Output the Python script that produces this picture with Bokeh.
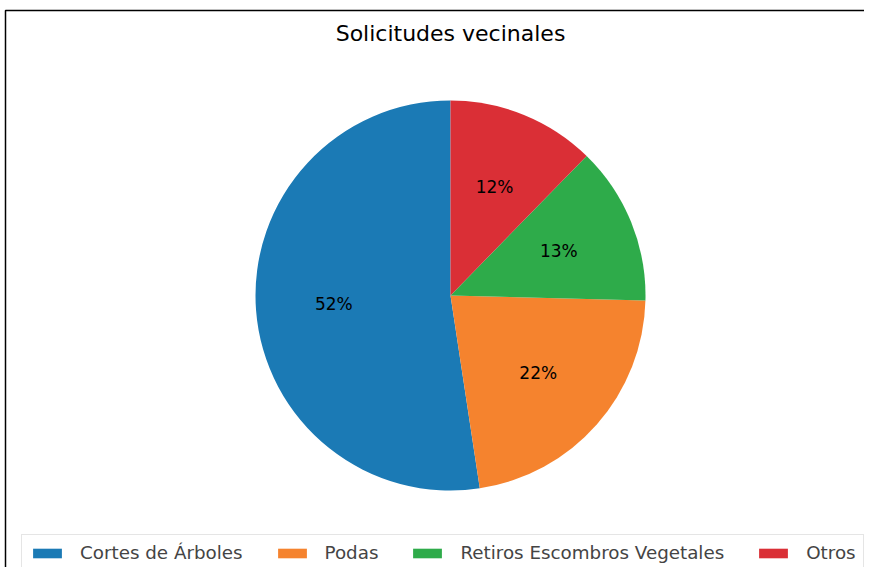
import numpy as np
from bokeh.plotting import figure
from bokeh.models import Range1d, Legend, LegendItem, ColumnDataSource, BoxAnnotation
from bokeh.core.properties import value
from bokeh.embed import file_html
from bokeh.resources import INLINE

title = "Solicitudes vecinales"
categories = ["Cortes de Árboles", "Podas", "Retiros Escombros Vegetales", "Otros"]
shares = [52.4, 22.2, 13.1, 12.3]
colors = ["#1b7ab5", "#f5832e", "#2eab4a", "#da2f36"]

W, H = 864, 567
p = figure(width=W, height=H, output_backend="svg", toolbar_location=None,
           x_range=Range1d(0, W), y_range=Range1d(0, H), min_border=0)
p.axis.visible = False
p.grid.visible = False
p.outline_line_color = None
p.background_fill_color = "white"

# frame line of the original figure (partly cropped)
p.add_layout(BoxAnnotation(left=5, right=W + 20, top=H - 10, bottom=-20,
                           fill_alpha=0, line_color="black", line_alpha=1, line_width=1.5))

cx, cy, r = 450, 272, 195
vals = np.array(shares, dtype=float)
frac = vals / vals.sum()
ends = np.pi / 2 + 2 * np.pi * np.cumsum(frac)
starts = ends - 2 * np.pi * frac
mids = (starts + ends) / 2
labels = [f"{v:.0f}%" for v in frac * 100]

src = ColumnDataSource(dict(start=starts, end=ends, color=colors, cat=categories,
                            lx=cx + 0.6 * r * np.cos(mids), ly=cy + 0.6 * r * np.sin(mids),
                            lab=labels))
w = p.wedge(x=cx, y=cy, radius=r, start_angle="start", end_angle="end",
            fill_color="color", line_color=None, source=src)
p.text(x="lx", y="ly", text="lab", source=src, text_align="center", text_baseline="middle",
       text_font=value("DejaVu Sans"), text_font_size="17px", text_color="black")

p.text(x=[cx], y=[H - 33], text=[title], text_align="center", text_baseline="middle",
       text_font=value("DejaVu Sans"), text_font_size="22px", text_color="black")

items = [LegendItem(label=c, renderers=[w], index=i) for i, c in enumerate(categories)]
legend = Legend(items=items, orientation="horizontal", location=(21, -4),
                glyph_width=36, glyph_height=12, label_standoff=15, spacing=31,
                padding=7, margin=0, label_text_font="DejaVu Sans",
                label_text_font_size="18.3px", label_height=20, border_line_color="#cccccc",
                border_line_width=1, background_fill_alpha=1)
p.add_layout(legend, "center")

open("out.html", "w").write(file_html(p, INLINE))
